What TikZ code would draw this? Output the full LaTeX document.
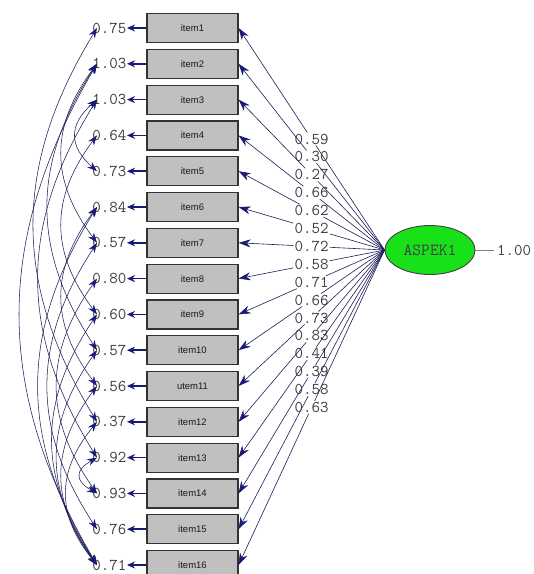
\documentclass[tikz,border=0pt]{standalone}
\usepackage{fontspec}
\newfontfamily\sansf{Liberation Sans}
\usetikzlibrary{arrows.meta,shapes.geometric}
\definecolor{navyline}{RGB}{30,30,90}
\definecolor{navytip}{RGB}{25,25,120}
\definecolor{boxgray}{RGB}{192,192,192}
\definecolor{lisgreen}{RGB}{25,225,25}
\definecolor{txt}{RGB}{60,60,60}
\begin{document}
\begin{tikzpicture}[x=1pt,y=1pt,
  itembox/.style={draw=black!80, line width=1.2pt, fill=boxgray, minimum width=91pt, minimum height=29pt, inner sep=0pt, font=\sansf\fontsize{9.5}{11}\selectfont, text=black!90},
  errlbl/.style={anchor=east, inner sep=0.5pt, font=\ttfamily\fontsize{16.5}{18}\selectfont, text=txt},
  loadlbl/.style={inner sep=1pt, font=\ttfamily\fontsize{16.5}{18}\selectfont, text=txt},
  errarrow/.style={draw=navytip, line width=1.6pt, -{Stealth[length=8pt,width=7pt]}},
  loadline/.style={draw=navyline, line width=0.6pt},
  loadarrow/.style={draw=navyline, line width=0.6pt, -{Stealth[length=12pt,width=8pt,color=navytip]}},
  cov/.style={draw=navyline, line width=0.55pt, {Stealth[length=10pt,width=7pt,color=navytip]}-{Stealth[length=10pt,width=7pt,color=navytip]}},
  factor/.style={ellipse, draw=black!75, line width=0.9pt, fill=lisgreen, minimum width=90pt, minimum height=49pt, inner sep=0pt, font=\ttfamily\fontsize{17}{19}\selectfont, text=black!75},
]
\fill[white] (0,0) rectangle (534,-574);
\useasboundingbox (0,0) rectangle (534,-574);

\node[factor] (F) at (430,-250) {ASPEK1};
\node[anchor=west, inner sep=3pt, font=\ttfamily\fontsize{16.5}{18}\selectfont, text=txt] (var) at (494,-250) {1.00};
\draw[draw=gray, line width=0.6pt] (F.east) -- (var.west);

\foreach \i/\t/\e/\l in {1/item1/0.75/0.59, 2/item2/1.03/0.30, 3/item3/1.03/0.27, 4/item4/0.64/0.66, 5/item5/0.73/0.62, 6/item6/0.84/0.52, 7/item7/0.57/0.72, 8/item8/0.80/0.58, 9/item9/0.60/0.71, 10/item10/0.57/0.66, 11/utem11/0.56/0.73, 12/item12/0.37/0.83, 13/item13/0.92/0.41, 14/item14/0.93/0.39, 15/item15/0.76/0.58, 16/item16/0.71/0.63}{
  \pgfmathsetmacro\y{-(28+(\i-1)*35.8)}
  \node[itembox] (b\i) at (192.5,\y) {\t};
  \node[errlbl] (e\i) at (127,\y) {\e};
  \coordinate (c\i) at (97,\y);
  \draw[errarrow] (b\i) -- (e\i);
  \path (F.west) -- node[loadlbl,pos=0.5] (p\i) {\l} (b\i.east);
  \draw[loadline] (F.west) -- (p\i);
  \draw[loadarrow] (p\i) -- (b\i.east);
}

\foreach \a/\b in {2/16,1/12,2/10,2/7,3/5,3/13,4/9,6/16,6/11,7/15,8/14,9/16,10/16,11/16,12/16,13/14}{
  \pgfmathsetmacro\L{(\b-\a)*35.8}
  \pgfmathsetmacro\h{(12+0.13*\L)/0.75}
  \pgfmathsetmacro\v{0.35*\L}
  \draw[cov] (c\a) .. controls +(-\h,-\v) and +(-\h,\v) .. (c\b);
}
\end{tikzpicture}
\end{document}
